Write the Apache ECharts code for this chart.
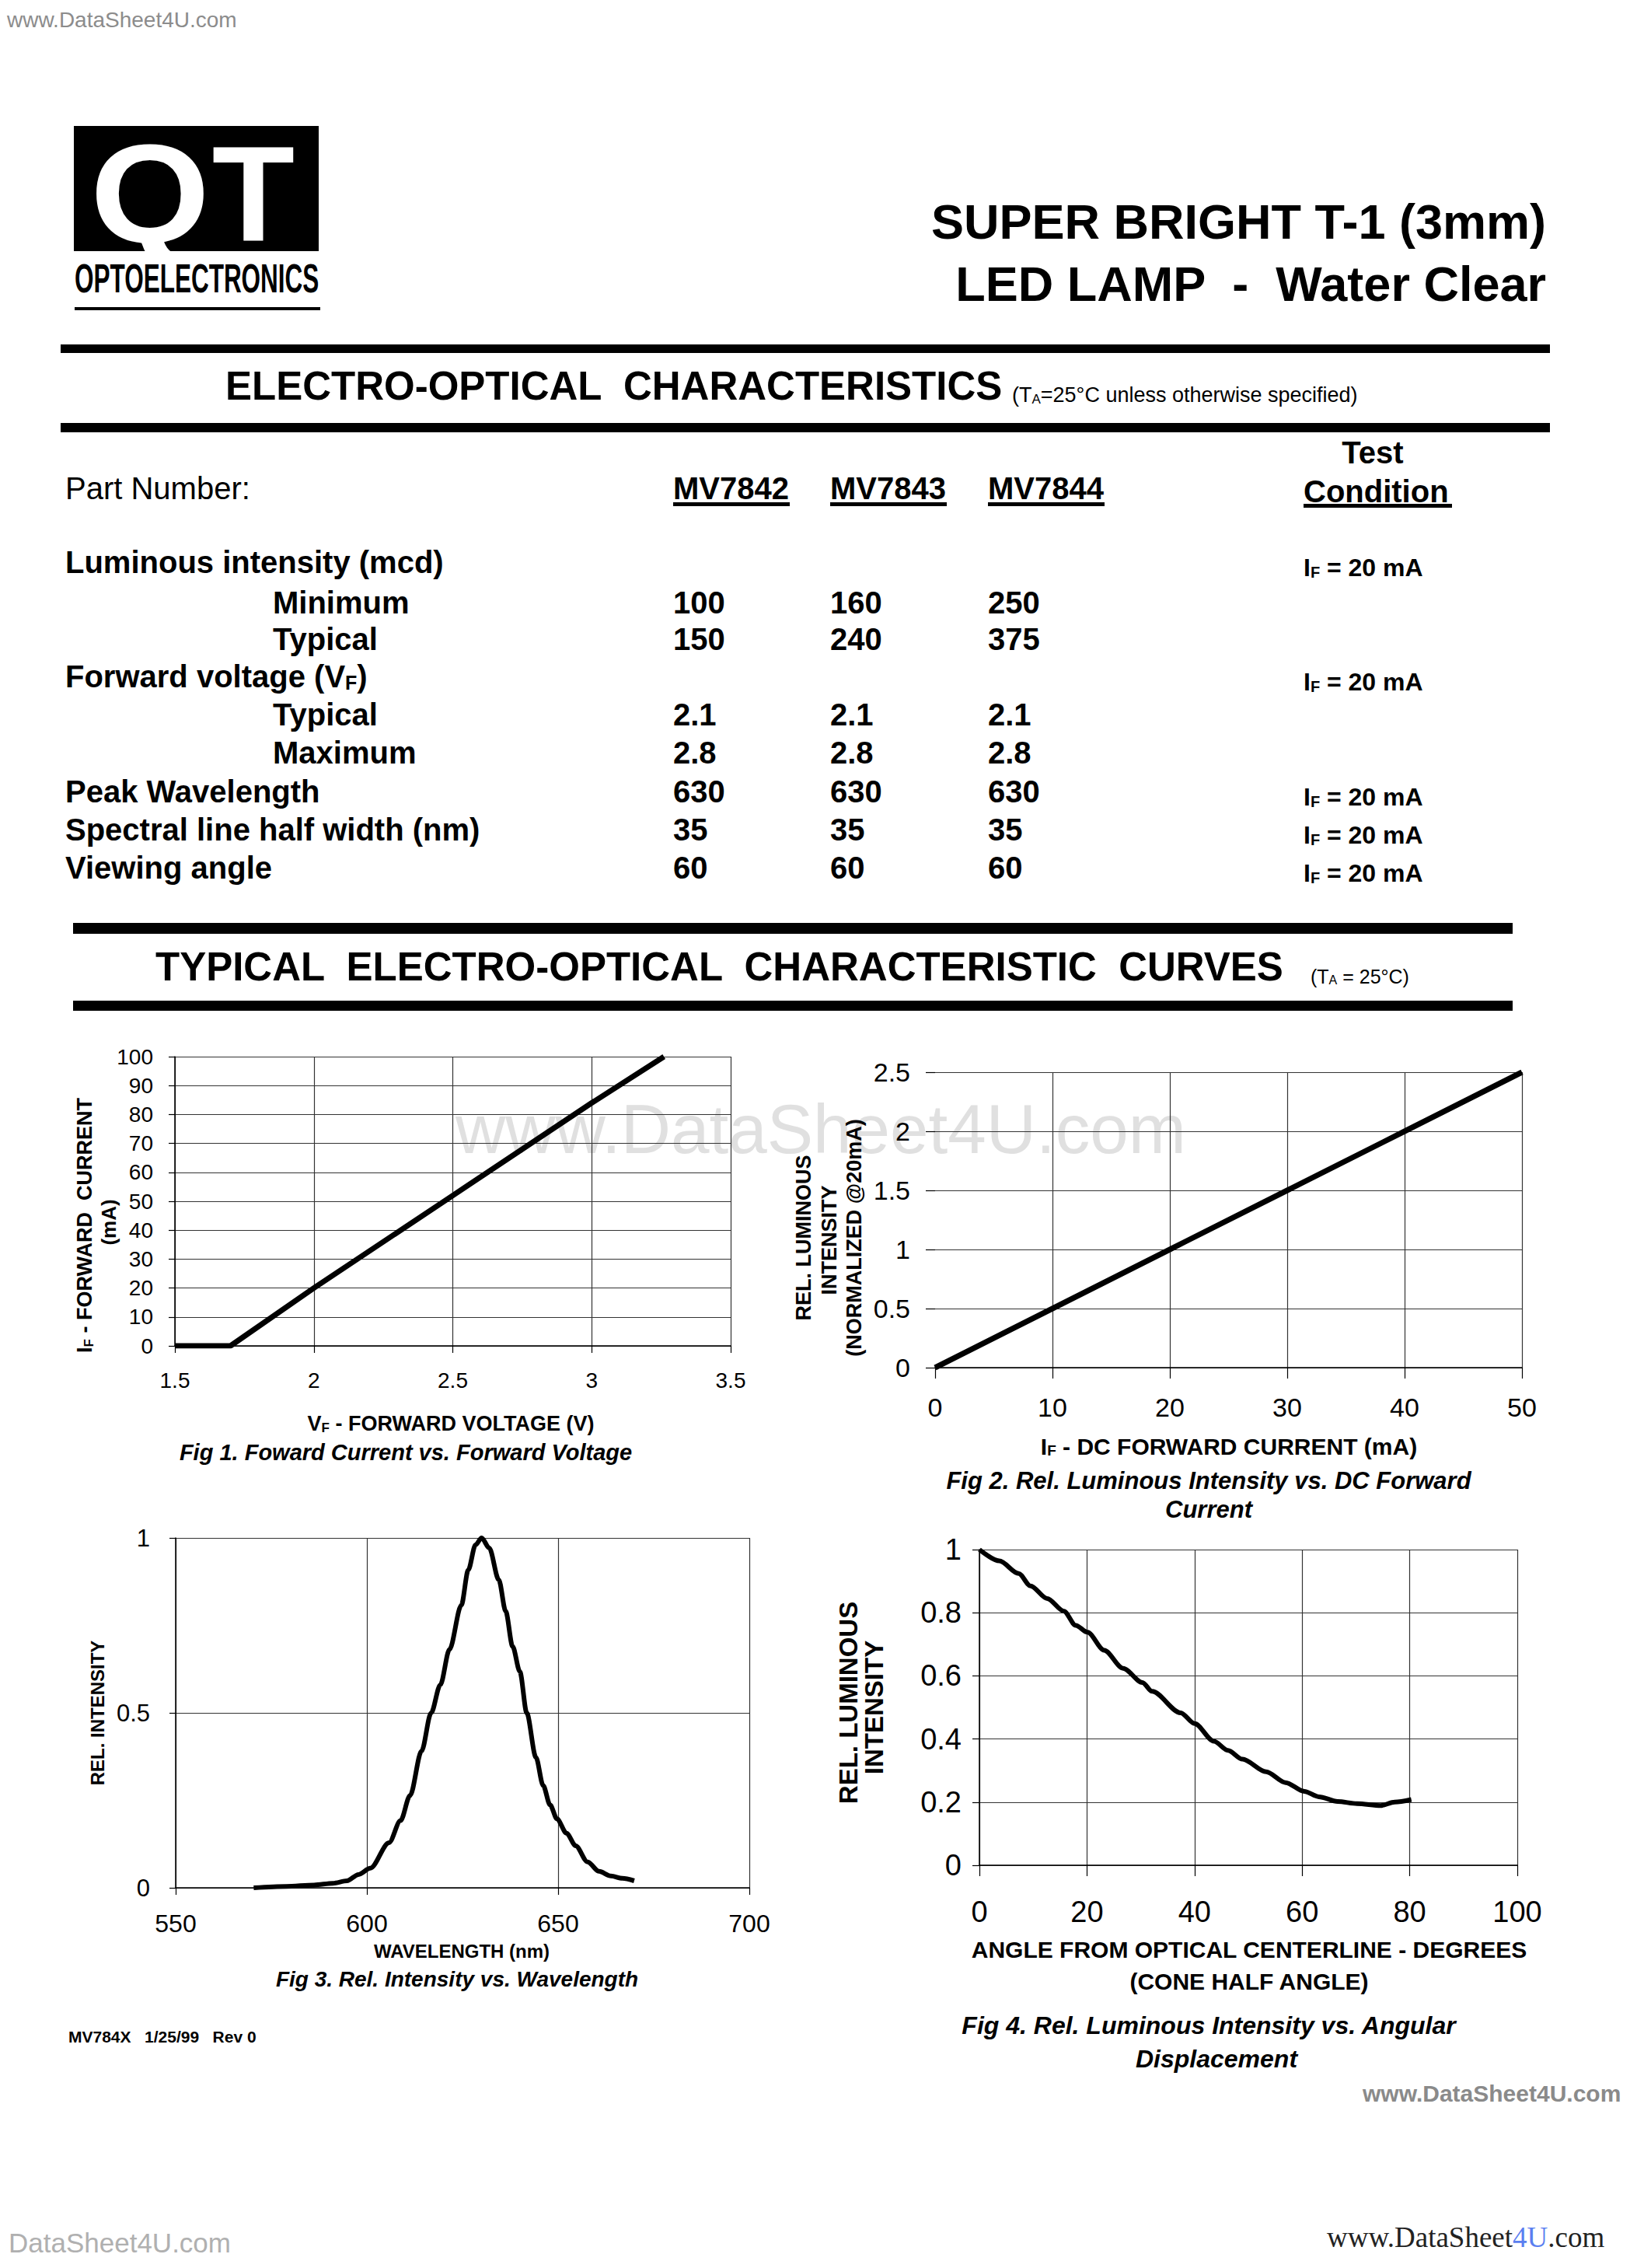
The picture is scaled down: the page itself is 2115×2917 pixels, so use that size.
<!DOCTYPE html>
<html>
<head>
<meta charset="utf-8">
<title>MV7842 / MV7843 / MV7844 Super Bright T-1 LED Lamp</title>
<script src="https://cdn.jsdelivr.net/npm/echarts@6/dist/echarts.min.js"></script>
<style>
html,body{margin:0;padding:0;background:#fff;}
#page{width:2115px;height:2917px;}
</style>
</head>
<body>
<div id="page"></div>
<script>
// ---------------- DATA ----------------
const partNumbers = ['MV7842', 'MV7843', 'MV7844'];
const rowLabels = ['Luminous intensity (mcd)', 'Minimum', 'Typical', 'Forward voltage (V{sub|F})', 'Typical', 'Maximum', 'Peak Wavelength', 'Spectral line half width (nm)', 'Viewing angle'];
const rowIsSub = [false, true, true, false, true, true, false, false, false];
const lumMin = [100, 160, 250];
const lumTyp = [150, 240, 375];
const vfTyp = ['2.1', '2.1', '2.1'];
const vfMax = ['2.8', '2.8', '2.8'];
const peakWavelength = [630, 630, 630];
const halfWidth = [35, 35, 35];
const viewAngle = [60, 60, 60];
const testCond = ['I{sub|F} = 20 mA', '', '', 'I{sub|F} = 20 mA', '', '', 'I{sub|F} = 20 mA', 'I{sub|F} = 20 mA', 'I{sub|F} = 20 mA'];

// Fig 1: forward current vs forward voltage
const fig1VF = [1.5, 1.7, 2.0, 2.5, 3.0, 3.26];
const fig1IF = [0, 0, 20, 52, 84, 100];
// Fig 2: relative luminous intensity vs DC forward current
const fig2IF = [0, 10, 20, 30, 40, 50];
const fig2Rel = [0, 0.5, 1.0, 1.5, 2.0, 2.5];
// Fig 3: relative intensity vs wavelength
const fig3WL = [570.4, 578.9, 586.2, 591.1, 594.8, 597.8, 600.9, 605.8, 608.8, 611.3, 614.3, 616.8, 619.2, 621.6, 624.7, 626.5, 628.4, 630.0, 632.0, 634.5, 636.3, 638.1, 640.0, 641.8, 644.2, 646.1, 647.9, 649.7, 652.2, 654.6, 657.7, 660.7, 663.8, 666.8, 669.9];
const fig3Rel = [0, 0.004, 0.008, 0.013, 0.02, 0.038, 0.056, 0.129, 0.192, 0.264, 0.391, 0.5, 0.58, 0.681, 0.808, 0.908, 0.98, 1.0, 0.971, 0.88, 0.79, 0.69, 0.618, 0.5, 0.373, 0.292, 0.237, 0.197, 0.156, 0.12, 0.074, 0.047, 0.034, 0.027, 0.02];
// Fig 4: relative luminous intensity vs angular displacement
const fig4Angle = [0, 3.7, 7.3, 9.5, 12.6, 15.7, 17.9, 20.1, 23.2, 26.7, 30.3, 32.1, 37.4, 40, 43.6, 46.2, 48.9, 53.3, 56.9, 60.4, 63.1, 66.6, 70.2, 74.6, 77.2, 80.3];
const fig4Rel = [1, 0.964, 0.924, 0.885, 0.845, 0.805, 0.76, 0.738, 0.681, 0.624, 0.579, 0.551, 0.483, 0.449, 0.393, 0.364, 0.336, 0.296, 0.262, 0.234, 0.217, 0.202, 0.195, 0.189, 0.2, 0.208];

// ---------------- HELPERS ----------------
const FONT = '"Liberation Sans", Arial, Helvetica, sans-serif';
const SERIF = '"Liberation Serif", "Times New Roman", serif';
const zip = (a, b) => a.map((v, i) => [v, b[i]]);

function subRich(size, weight, italic, color) {
  return {
    sub: {
      fontSize: Math.round(size * 0.62), fontWeight: weight || 'bold',
      fontStyle: italic ? 'italic' : 'normal', fontFamily: FONT,
      fill: color || '#000', verticalAlign: 'bottom'
    }
  };
}
function txt(text, x, y, size, o) {
  o = o || {};
  const w = o.w || 'bold';
  const a = o.a || 'left';
  return {
    type: 'text', x: x, y: y, z: o.z != null ? o.z : 10,
    rotation: o.rot || 0, scaleX: o.sx || 1, scaleY: o.sy || 1, silent: true,
    style: {
      text: text, x: 0, y: 0,
      fontSize: size, fontWeight: w, fontStyle: o.it ? 'italic' : 'normal',
      fontFamily: o.ff || FONT, fill: o.c || '#000',
      align: a, textAlign: a, verticalAlign: 'middle', textVerticalAlign: 'middle',
      rich: o.rich || subRich(size, w, o.it, o.c)
    }
  };
}
function rect(x, y, w, h, c) {
  return { type: 'rect', silent: true, z: 10, shape: { x: x, y: y, width: w, height: h }, style: { fill: c || '#000' } };
}

// ---------------- PAGE GRAPHICS ----------------
const G = [];
// header
G.push(txt('www.DataSheet4U.com', 9, 25, 28, { w: 'normal', c: '#8c8c8c' }));
G.push(rect(95, 162, 315, 161));
G.push(txt('Q', 193, 250, 180, { a: 'center', c: '#fff', sx: 1.1 }));
G.push(txt('T', 326, 249, 174, { a: 'center', c: '#fff' }));
G.push(txt('OPTOELECTRONICS', 96, 358, 30, { sx: 1.05, sy: 1.72 }));
G.push(rect(96, 395, 316, 4));
G.push(txt('SUPER BRIGHT T-1 (3mm)', 1989, 285, 63, { a: 'right' }));
G.push(txt('LED LAMP  -  Water Clear', 1989, 365, 63, { a: 'right' }));
G.push(rect(78, 443, 1916, 11));
G.push(txt('ELECTRO-OPTICAL  CHARACTERISTICS', 290, 496, 51));
G.push(txt('(T{sub|A}=25°C unless otherwise specified)', 1302, 508, 27, { w: 'normal' }));
G.push(rect(78, 544, 1916, 12));

// table
const colX = [866, 1068, 1271];
G.push(txt('Part Number:', 84, 628, 40, { w: 'normal' }));
partNumbers.forEach((p, i) => {
  G.push(txt(p, colX[i], 628, 40));
  G.push(rect(colX[i], 646, 150, 5));
});
G.push(txt('Test', 1766, 582, 40, { a: 'center' }));
G.push(txt('Condition', 1677, 632, 40));
G.push(rect(1677, 648, 191, 5));
const rowY = [723, 775, 822, 870, 919, 968, 1018, 1067, 1116];
const rowValues = [null, lumMin, lumTyp, null, vfTyp, vfMax, peakWavelength, halfWidth, viewAngle];
rowLabels.forEach((lab, r) => {
  G.push(txt(lab, rowIsSub[r] ? 351 : 84, rowY[r], 40));
  if (rowValues[r]) rowValues[r].forEach((v, i) => G.push(txt(String(v), colX[i], rowY[r], 40)));
  if (testCond[r]) G.push(txt(testCond[r], 1677, rowY[r] + 7, 32));
});
G.push(rect(94, 1187, 1852, 14));
G.push(txt('TYPICAL  ELECTRO-OPTICAL  CHARACTERISTIC  CURVES', 200, 1243, 51));
G.push(txt('(T{sub|A} = 25°C)', 1686, 1256, 25, { w: 'normal' }));
G.push(rect(94, 1287, 1852, 13));

// big watermark
G.push(txt('www.DataSheet4U.com', 586, 1452, 89, { w: 'normal', c: '#e0e0e0', z: -5 }));

// Fig 1 texts
G.push(txt('I{sub|F} - FORWARD  CURRENT', 109, 1576, 27, { a: 'center', rot: Math.PI / 2 }));
G.push(txt('(mA)', 140, 1572, 26, { a: 'center', rot: Math.PI / 2 }));
G.push(txt('V{sub|F} - FORWARD VOLTAGE (V)', 580, 1831, 27, { a: 'center' }));
G.push(txt('Fig 1. Foward Current vs. Forward Voltage', 522, 1868, 29, { a: 'center', it: true }));
// Fig 2 texts
G.push(txt('REL. LUMINOUS', 1034, 1592, 27, { a: 'center', rot: Math.PI / 2 }));
G.push(txt('INTENSITY', 1067, 1595, 27, { a: 'center', rot: Math.PI / 2 }));
G.push(txt('(NORMALIZED @20mA)', 1099, 1592, 27, { a: 'center', rot: Math.PI / 2 }));
G.push(txt('I{sub|F} - DC FORWARD CURRENT (mA)', 1581, 1860, 30, { a: 'center' }));
G.push(txt('Fig 2. Rel. Luminous Intensity vs. DC Forward', 1555, 1904, 31, { a: 'center', it: true }));
G.push(txt('Current', 1555, 1941, 31, { a: 'center', it: true }));
// Fig 3 texts
G.push(txt('REL. INTENSITY', 125, 2203, 24, { a: 'center', rot: Math.PI / 2 }));
G.push(txt('WAVELENGTH (nm)', 594, 2509, 24, { a: 'center' }));
G.push(txt('Fig 3. Rel. Intensity vs. Wavelength', 588, 2545, 28, { a: 'center', it: true }));
// Fig 4 texts
G.push(txt('REL. LUMINOUS', 1091, 2190, 33, { a: 'center', rot: Math.PI / 2 }));
G.push(txt('INTENSITY', 1124, 2196, 33, { a: 'center', rot: Math.PI / 2 }));
G.push(txt('ANGLE FROM OPTICAL CENTERLINE - DEGREES', 1607, 2507, 30, { a: 'center' }));
G.push(txt('(CONE HALF ANGLE)', 1607, 2548, 30, { a: 'center' }));
G.push(txt('Fig 4. Rel. Luminous Intensity vs. Angular', 1555, 2605, 32, { a: 'center', it: true }));
G.push(txt('Displacement', 1565, 2648, 32, { a: 'center', it: true }));

// footer
G.push(txt('MV784X   1/25/99   Rev 0', 88, 2619, 21));
G.push(txt('www.DataSheet4U.com', 1753, 2692, 30, { c: '#8a8a8a' }));
G.push(txt('DataSheet4U.com', 11, 2884, 35, { w: 'normal', c: '#b0b0b0' }));
G.push(txt('www.DataSheet{b|4U}.com', 1707, 2877, 37, {
  w: 'normal', ff: SERIF, c: '#222',
  rich: { b: { fontSize: 37, fontFamily: SERIF, fontWeight: 'normal', fill: '#5b7ff0' } }
}));

// ---------------- AXES ----------------
function axis(gi, min, max, interval, size, margin, tickLen, extra) {
  const a = {
    gridIndex: gi, type: 'value', min: min, max: max, interval: interval,
    axisLine: { show: true, onZero: false, lineStyle: { color: '#000', width: 1.5 } },
    axisTick: { show: true, length: tickLen, lineStyle: { color: '#000', width: 1.2 } },
    axisLabel: { color: '#000', fontSize: size, fontFamily: FONT, margin: margin },
    splitLine: { show: true, lineStyle: { color: '#333', width: 1.2 } }
  };
  return Object.assign(a, extra || {});
}

const option = {
  animation: false,
  backgroundColor: '#fff',
  grid: [
    { left: 225, top: 1359, width: 715, height: 372 },
    { left: 1203, top: 1379, width: 755, height: 380 },
    { left: 226, top: 1978, width: 738, height: 450 },
    { left: 1260, top: 1993, width: 692, height: 406 }
  ],
  xAxis: [
    axis(0, 1.5, 3.5, 0.5, 28, 30, 9),
    axis(1, 0, 50, 10, 34, 34, 14, { splitLine: { show: true, showMinLine: false, lineStyle: { color: '#333', width: 1.2 } } }),
    axis(2, 550, 700, 50, 32, 30, 9),
    axis(3, 0, 100, 20, 38, 41, 14)
  ],
  yAxis: [
    axis(0, 0, 100, 10, 28, 28, 8),
    axis(1, 0, 2.5, 0.5, 34, 32, 12, { axisLine: { show: false } }),
    axis(2, 0, 1, 0.5, 31, 33, 8),
    axis(3, 0, 1, 0.2, 38, 23, 9)
  ],
  series: [
    { type: 'line', xAxisIndex: 0, yAxisIndex: 0, data: zip(fig1VF, fig1IF), showSymbol: false, lineStyle: { color: '#000', width: 7 }, z: 5 },
    { type: 'line', xAxisIndex: 1, yAxisIndex: 1, data: zip(fig2IF, fig2Rel), showSymbol: false, lineStyle: { color: '#000', width: 7 }, z: 5 },
    { type: 'line', xAxisIndex: 2, yAxisIndex: 2, data: zip(fig3WL, fig3Rel), showSymbol: false, smooth: 0.3, smoothMonotone: 'x', lineStyle: { color: '#000', width: 6 }, z: 5 },
    { type: 'line', xAxisIndex: 3, yAxisIndex: 3, data: zip(fig4Angle, fig4Rel), showSymbol: false, smooth: 0.3, smoothMonotone: 'x', lineStyle: { color: '#000', width: 6 }, z: 5 }
  ],
  graphic: { elements: G }
};

const chart = echarts.init(document.getElementById('page'), null, { renderer: 'svg', width: 2115, height: 2917 });
chart.setOption(option);
</script>
</body>
</html>
